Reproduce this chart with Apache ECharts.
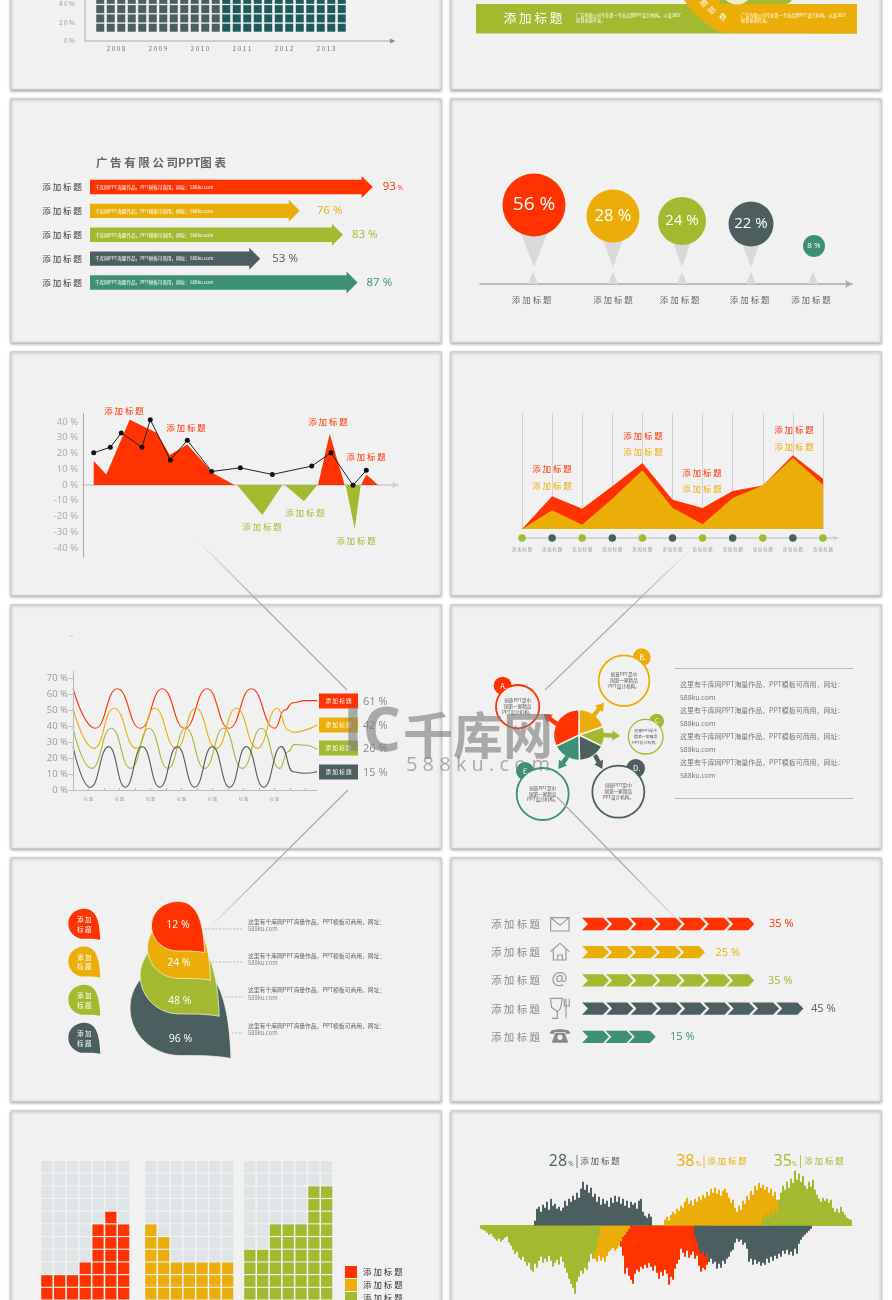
<!DOCTYPE html>
<html><head><meta charset="utf-8">
<style>html,body{margin:0;padding:0;background:#fff}#c{width:892px;height:1300px}</style>
<script src="https://cdn.jsdelivr.net/npm/echarts@6/dist/echarts.min.js"></script>
</head><body><div id="c"></div>
<script>
// ---------- palette ----------
const RED='#ff3200',YEL='#ebae08',GRN='#a3ba30',DRK='#4c5f60',TEA='#3d9073',GREY='#999';
const TITLE='添 加 标 题';
const FONT='"Noto Sans CJK SC","Noto Sans",sans-serif';
// ---------- data ----------
const waffleYears=['2008','2009','2010','2011','2012','2013'];
const waffleTicks=[0,20,40];
const waffleGrey=[40,40,40,40,40,40,40,40,40,40,40,40];
const waffleTeal=[40,40,40,40,40,40,40,40,40,40,40,40];

const arrowLabels=['93','76','83','53','87'];
const arrowLengths=[93,69,83.2,56,88];

const pinLabels=['56','28','24','22','8'];
const pinX=[534,613,682,751,814];
const pinHeight=[79,68,63,60,38];
const pinDiameter=[63,53,48,45,22];
const pinColors=[RED,YEL,GRN,DRK,TEA];

const areaRedPos=[[10.7,0],[10.7,15.2],[23.3,6.7],[46.7,41.5],[74,33],[86.7,19],[104.3,25.7],[130,7.4],[151.7,0],[235,0],[246.7,32.4],[261.7,0],[278,0],[283.3,6.7],[295,0]];
const areaGrnNeg=[[154,0],[179.3,-19],[199.3,0],[201.7,0],[221,-10.3],[234.3,0],[262.7,0],[271.7,-28],[277.7,0]];
const lineBlack=[[10.7,20.4],[27.3,24],[38.3,33],[59,24],[67.3,41.5],[87.3,15.8],[104.3,28.4],[128.7,8.6],[157.3,10.9],[189.3,6.7],[228.7,12],[248,20.4],[270,-0.2],[283.3,9.3]];

const hillCats=['添加标题','添加标题','添加标题','添加标题','添加标题','添加标题','添加标题','添加标题','添加标题','添加标题','添加标题'];
const hillRed=[0,28.2,17.5,36.8,56.9,25.3,18.1,32.8,37.6,63.5,43.4];
const hillYel=[0,16.1,3.7,26.1,50.6,18.4,4,26.7,37.6,61.5,38.2];

const waveRed=[[0,63.7],[22.3,38.8],[44.3,63.7],[67.3,38.8],[89.3,63.7],[111.7,38.8],[134,63.7],[156,38.8],[178.3,63.7],[201.7,38.8],[211.7,50.3],[220,54.9],[231.7,56.2],[244,56.2]];
const waveYel=[[0,51.4],[21,26.2],[41,51.4],[63.3,26.2],[81.7,51.4],[103.3,26.2],[122.7,51.4],[143.3,26.2],[163.3,51.4],[184.3,26.2],[204.3,51.4],[215,37.7],[220,36.3],[244,40.9]];
const waveGrn=[[0,38.8],[18.7,13.6],[38.3,38.8],[57.7,13.6],[76,38.8],[95,13.6],[112.7,38.8],[131.7,13.6],[150.7,38.8],[169.3,13.6],[188.3,38.8],[206.7,13.6],[215,24.1],[221.7,28.7],[230,28.3],[244,25.6]];
const waveDrk=[[0,27.3],[17.3,1.7],[35.7,27.3],[52.3,1.7],[69.3,27.3],[86.7,1.7],[104.3,27.3],[121.7,1.7],[139.3,27.3],[156.7,1.7],[173.3,27.3],[190.7,1.7],[208.3,27.3],[220,11.5],[230,10.5],[244,11.5]];
const wavePercents=['61 %','42 %','26 %','15 %'];

const pieAngles=[71,45,63,65,116];
const dropValues=['96 %','48 %','24 %','12 %'];
const chevronValues=[35,25,35,45,15];

const cellsRed=[2,2,2,3,6,7,6];
const cellsYel=[6,5,3,3,3,3,3];
const cellsGrn=[4,4,6,6,6,9,9];

const soundDrkTop=[5,17,19,14,21,18,24,16,27,20,22,17,19,15,18,25,20,27,24,30,26,33,28,37,44,36,41,33,38,29,32,24,29,21,27,22,25,19,28,23,30,24,29,22,27,20,25,18,24,21,23,17,25,27,14,10,8,12,9];
const soundYelTop=[6,9,5,11,14,12,17,15,20,18,24,28,22,25,20,27,24,29,26,31,28,34,30,37,33,38,32,36,30,35,37,33,28,23,26,18,14,20,16,25,22,30,26,35,31,40,36,43,38,41,36,39,33,37,30,34,26];
const soundGrnTop=[10,6,12,8,14,11,16,12,26,33,40,36,44,38,47,43,55,46,52,44,50,40,37,44,39,46,36,31,27,24,28,25,27,23,26,18,14,17,13,19,14,11,8,7,6];
const soundGrnLow=[3,4,5,7,9,8,11,13,15,13,16,14,12,11,17,20,24,28,26,32,34,31,36,40,37,44,46,38,42,35,31,37,33,36,30,35,41,37,34,39,31,36,42,47,53,58,62,68,56,51,45,48,42,44,36,28,33,26,20,11];
const soundYelLow=[24,28,33,36,30,35,32,36,30,26,24,22,25,23,20,16,11,9,6,3];
const soundRedLow=[21,30,48,42,50,54,58,48,44,46,41,43,39,42,37,41,45,40,47,53,46,50,44,48,59,51,54,43,38,34,23,27,31,25,32,29,26,33,30,40,46,42,44,39,36];
const soundDrkLow=[11,16,24,28,26,31,28,36,33,38,36,43,38,42,35,38,33,31,26,24,17,13,16,14,19,17,23,36,33,39,34,38,36,40,37,39,33,37,31,35,30,33,28,31,25,28,24,29,26,30,23,28,18,14,11,9,7,5,3];

// ---------- builders ----------
const grids=[],xAxes=[],yAxes=[],series=[],G=[];
function cart(rect,x,y){const i=grids.length;grids.push(Object.assign({containLabel:false},rect));
  xAxes.push(Object.assign({gridIndex:i},x));yAxes.push(Object.assign({gridIndex:i},y));return i;}
function pxGrid(l,t,w,h){return cart({left:l,top:t,width:w,height:h},{type:'value',min:0,max:w,show:false},{type:'value',min:0,max:h,inverse:true,show:false});}
function T(text,x,y,o={}){const st={text,x,y,fill:o.color||'#777',fontSize:o.size||9,fontFamily:o.family||FONT,fontWeight:o.weight||'normal',
  align:o.align||'center',verticalAlign:'middle',textAlign:o.align||'center',textVerticalAlign:'middle'};
  G.push({type:'text',z:o.z||5,silent:true,style:st});}
function L(x1,y1,x2,y2,color,w,dash,z){G.push({type:'line',z:z||5,silent:true,shape:{x1,y1,x2,y2},style:{stroke:color,lineWidth:w||1,lineDash:dash}});}
function P(points,fill,z){G.push({type:'polygon',z:z||5,silent:true,shape:{points},style:{fill}});}
function C(cx,cy,r,style,z){G.push({type:'circle',z:z||5,silent:true,shape:{cx,cy,r},style});}
function R(x,y,w,h,style,z){G.push({type:'rect',z:z||5,silent:true,shape:{x,y,width:w,height:h},style});}

// panels
const cols=[[10.7,430.6],[450.7,430.6]];
const rows=[[-20,109.5],[98.7,244],[351.7,244],[604.7,244],[857.7,244],[1110.7,240]];
rows.forEach(r=>cols.forEach(c=>{
  G.push({type:'rect',z:-10,silent:true,shape:{x:c[0],y:r[0],width:c[1],height:r[1]},
    style:{fill:'#f1f1f1',stroke:'#c9c9c9',lineWidth:1,shadowBlur:3,shadowColor:'rgba(0,0,0,.35)',shadowOffsetY:1}});
}));

// ---------- P1: waffle columns (cropped) ----------
const topGrid=cart({left:95,top:3,width:252,height:38},{type:'category',data:waffleGrey.concat(waffleTeal).map((_,k)=>k),show:false},
    {type:'value',min:0,max:40,interval:20,offset:10,axisLine:{show:false},axisTick:{show:false},splitLine:{show:false},
     axisLabel:{margin:10,fontSize:6.5,color:'#999',fontFamily:FONT,formatter:v=>String(v).split('').join(' ')+' %'}});
series.push({type:'pictorialBar',xAxisIndex:topGrid,yAxisIndex:topGrid,silent:true,
  data:waffleGrey.map(v=>({value:v,symbolRepeat:v/10,symbolBoundingData:38,itemStyle:{color:DRK}})).concat(waffleTeal.map(v=>({value:v,symbolRepeat:v/10,symbolBoundingData:38,itemStyle:{color:'#1d5a5c'}}))),
  symbol:'rect',symbolSize:[8,8],symbolOffset:[0,-9.3],barWidth:8,symbolPosition:'start',clip:false});
L(85,0,85,41,'#aaa',1);L(85,41,392,41,'#aaa',1);P([[395.5,41],[390,38.5],[390,43.5]],'#7f9090');
// P1 right: band
{
  R(476,4,381,29.5,{fill:GRN});
  const ringEdge=[];
  for(let y=0;y<=33.5;y+=1.5){ringEdge.push([760-Math.sqrt(91*91-(y+50)*(y+50)),y]);}
  P(ringEdge.concat([[857,33.5],[857,4],[757,4],[757,0]]),YEL);
  G.push({type:'rect',z:5,silent:true,shape:{x:720,y:-6,width:73,height:10,r:[0,0,8,0]},style:{fill:GRN}});
  C(737,-12,16.5,{fill:'#eceecb'},6);
  T(TITLE,533,18.5,{color:'#fff',size:12.5,z:6});
  T('广告有限公司专业第一专业品牌PPT设计机构。以及2007',576,15,{color:'#fff',size:4.2,align:'left',z:6});
  T('创意来源开发。',576,20,{color:'#fff',size:4.2,align:'left',z:6});
  T('广告有限公司专业第一专业品牌PPT设计机构。以及2007',741,15,{color:'#fff',size:4.2,align:'left',z:6});
  T('创意来源开发。',741,20,{color:'#fff',size:4.2,align:'left',z:6});
  [['题',704,3,-.95],['加',712,10,-.8],['数',723,17,-.65]].forEach(a=>{
    G.push({type:'text',z:6,silent:true,x:a[1],y:a[2],rotation:a[3],style:{text:a[0],x:0,y:0,fill:'#fff',fontSize:7.5,fontFamily:FONT,align:'center',verticalAlign:'middle',textAlign:'center',textVerticalAlign:'middle'}});
  });
}
// ---------- P2: arrows ----------
{
  const colors=[RED,YEL,GRN,DRK,TEA],gaps=[10,17,9,12,9];
  const i=cart({left:90,top:175,width:304,height:119.5},{type:'value',min:0,max:100,show:false},
    {type:'category',inverse:true,data:arrowLabels.map(()=>TITLE),axisLine:{show:false},axisTick:{show:false},axisLabel:{margin:8,fontSize:8.5,color:'#333',fontFamily:FONT}});
  series.push({type:'custom',xAxisIndex:i,yAxisIndex:i,silent:true,data:arrowLengths.map((v,k)=>[v,k]),encode:{x:0,y:1},
    renderItem:(p,api)=>{const a=api.coord([0,api.value(1)]),b=api.coord([api.value(0),api.value(1)]),k=p.dataIndex,y=a[1],h=7.2,H=11,hl=11;
      return {type:'group',children:[
        {type:'polygon',shape:{points:[[a[0],y-h],[b[0]-hl,y-h],[b[0]-hl,y-H],[b[0],y],[b[0]-hl,y+H],[b[0]-hl,y+h],[a[0],y+h]]},style:{fill:colors[k]}},
        {type:'text',style:{text:'千库网PPT海量作品，PPT模板可商用，网址：588ku.com',x:a[0]+5,y:y,fill:'#fff',fontSize:4.6,fontFamily:FONT,verticalAlign:'middle',textVerticalAlign:'middle'}},
        {type:'text',style:{text:arrowLabels[k]+(k?' %':''),x:b[0]+gaps[k],y:y,fill:colors[k],fontSize:11.5,fontFamily:'"Open Sans"',verticalAlign:'middle',textVerticalAlign:'middle'}}
      ]};}});
  T('%',397.5,188,{color:RED,size:6.5,align:'left',family:'"Open Sans"'});
  T('广 告 有 限 公 司PPT图 表',96,163,{color:'#666',size:11.5,align:'left',weight:'bold'});
}
// ---------- P2 right: pins ----------
{
  const i=cart({left:480,top:150,width:372,height:134},
    {type:'value',min:0,max:372,axisTick:{show:false},axisLabel:{show:false},splitLine:{show:false},axisLine:{show:true,symbol:['none','arrow'],symbolSize:[6,7],lineStyle:{color:'#a8a8a8',width:1.5}}},
    {type:'value',min:0,max:134,show:false});
  const topTri=[[534,17,54,14.5],[613,17,50,12],[682,17,46,10.5],[751,17,44,10],[814,27,33,5]];
  const lowTri=[533,613,682,751,813];
  const tri=(p,api)=>{const x=api.value(0),t=api.value(1),b=api.value(2),h=api.value(3);
    return {type:'polygon',shape:{points:[api.coord([x-480,t]),api.coord([x-480-h,b]),api.coord([x-480+h,b])]},style:{fill:'#d9d9d9'}};};
  series.push({type:'custom',xAxisIndex:i,yAxisIndex:i,silent:true,data:topTri,renderItem:tri,encode:{x:0,y:1}});
  series.push({type:'custom',xAxisIndex:i,yAxisIndex:i,silent:true,data:lowTri.map(x=>[x,12,0,5]),renderItem:tri,encode:{x:0,y:1}});
  series.push({type:'scatter',xAxisIndex:i,yAxisIndex:i,silent:true,
    data:pinX.map((x,k)=>({value:[x-480,pinHeight[k]],symbolSize:pinDiameter[k],itemStyle:{color:pinColors[k],opacity:1},
      label:{show:true,position:'inside',formatter:pinLabels[k]+' %',color:'#fff',fontFamily:'"Open Sans"',fontSize:[19,16.5,15,15,8][k]}}))});
  [531.7,613,679.7,749.7,811].forEach(x=>T(TITLE,x,300,{size:8.5,color:'#666'}));
}
// ---------- P3: area + line ----------
{
  const i=cart({left:83,top:422,width:315,height:126},
    {type:'value',min:0,max:315,axisTick:{show:false},axisLabel:{show:false},splitLine:{show:false},axisLine:{onZero:true,symbol:['none','arrow'],symbolSize:[5,6],lineStyle:{color:'#ccc',width:1.5}}},
    {type:'value',min:-40,max:40,interval:10,axisLine:{show:false},axisTick:{show:false},splitLine:{show:false},
     axisLabel:{margin:5,fontSize:9.5,color:'#aaa',fontFamily:'"Open Sans"',formatter:v=>v+' %'}});
  const area=(d,c)=>({type:'line',xAxisIndex:i,yAxisIndex:i,data:d,silent:true,clip:false,showSymbol:false,lineStyle:{width:0},areaStyle:{color:c,opacity:1},z:2});
  series.push(area(areaRedPos,RED),area(areaGrnNeg,GRN));
  series.push({type:'line',xAxisIndex:i,yAxisIndex:i,data:lineBlack,silent:true,clip:false,symbol:'circle',symbolSize:5,showAllSymbol:true,lineStyle:{color:'#222',width:1},itemStyle:{color:'#111'},z:3});
  L(83.5,413,83.5,558,'#aaa',1);
  [[124,411],[186,428],[328,422],[366,457]].forEach(a=>T(TITLE,a[0],a[1],{color:RED,size:8.5}));
  [[262,527],[305,513],[356,541]].forEach(a=>T(TITLE,a[0],a[1],{color:GRN,size:8.5}));
}
// ---------- P3 right: hills ----------
{
  const i=cart({left:522,top:413,width:301,height:116},
    {type:'category',boundaryGap:false,data:hillCats,axisLine:{show:false},axisTick:{show:false},axisLabel:{show:false},splitLine:{show:true,interval:0,lineStyle:{color:'#cfcfcf',width:1}}},
    {type:'value',min:0,max:100,show:false});
  const area=(d,c)=>({type:'line',xAxisIndex:i,yAxisIndex:i,data:d,silent:true,showSymbol:false,lineStyle:{width:0},areaStyle:{color:c,opacity:1}});
  series.push(area(hillRed,RED),area(hillYel,YEL));
  const j=cart({left:522,top:536,width:316,height:2},
    {type:'value',min:0,max:10.5,interval:1,splitLine:{show:false},axisTick:{show:false},
     axisLine:{onZero:false,symbol:['none','arrow'],symbolSize:[4,5],lineStyle:{color:'#ccc',width:1.5}},
     axisLabel:{margin:9,fontSize:4.3,color:'#999',fontFamily:FONT,showMaxLabel:false,formatter:v=>Number.isInteger(v)?'添 加 标 题':''}},
    {type:'value',min:0,max:1,show:false});
  series.push({type:'scatter',xAxisIndex:j,yAxisIndex:j,silent:true,symbolSize:7.5,z:3,
    data:hillCats.map((_,k)=>({value:[k,0],itemStyle:{color:k%2?DRK:GRN,opacity:1}}))});
  [[552,469,486],[643,436,452],[702,473,489],[794,430,447]].forEach(a=>{T(TITLE,a[0],a[1],{color:RED,size:8.5});T(TITLE,a[0],a[2],{color:YEL,size:8.5});});
}
// ---------- P4: waves ----------
{
  const i=cart({left:73,top:678.7,width:244,height:111.3},
    {type:'value',min:0,max:244,interval:15.5,splitLine:{show:false},axisLine:{lineStyle:{color:'#bbb',width:1}},axisTick:{show:true,inside:true,length:2,lineStyle:{color:'#bbb'}},
     axisLabel:{margin:7,fontSize:4,color:'#999',fontFamily:FONT,showMaxLabel:false,formatter:v=>{const n=Math.round(v/15.5);return (n%2===1&&n<14)?'标 题':'';}}},
    {type:'value',min:0,max:70,interval:10,axisLine:{show:false},axisTick:{show:true,length:4,lineStyle:{color:'#bbb'}},splitLine:{show:false},
     axisLabel:{margin:5,fontSize:9.5,color:'#999',fontFamily:'"Open Sans"',formatter:v=>v+' %'}});
  [[waveRed,RED],[waveYel,YEL],[waveGrn,GRN],[waveDrk,DRK]].forEach(a=>series.push({type:'line',xAxisIndex:i,yAxisIndex:i,data:a[0],silent:true,showSymbol:false,smooth:0.5,smoothMonotone:'x',lineStyle:{color:a[1],width:1.1}}));
  L(73.5,671,73.5,790,'#bbb',1);
  L(69,636,73,636,'#ccc',1);
  [[RED,701],[YEL,725],[GRN,748],[DRK,772]].forEach((a,k)=>{
    R(319,a[1]-7.5,39,15,{fill:a[0]});T(TITLE,338.5,a[1],{color:'#fff',size:5.6});
    T(wavePercents[k],363,a[1]+1,{color:'#888',size:11,align:'left',family:'"Open Sans"'});
  });
}
// ---------- P4 right: pie + circles ----------
{
  series.push({type:'pie',center:[579,735],radius:[0,25.5],startAngle:90,clockwise:true,silent:true,label:{show:false},labelLine:{show:false},
    itemStyle:{borderColor:'#f1f1f1',borderWidth:1.5},
    data:pieAngles.map((v,k)=>({value:v,itemStyle:{color:[YEL,GRN,DRK,TEA,RED][k]}}))});
  const c6=(x,y)=>[x/3+480,y/3+640];
  const arrow=(a,b,color)=>{const p=c6(a[0],a[1]),q=c6(b[0],b[1]),dx=q[0]-p[0],dy=q[1]-p[1],n=Math.hypot(dx,dy),ux=dx/n,uy=dy/n,nx=-uy,ny=ux,w=2.2,H=5,hl=8;
    const m=[q[0]-ux*hl,q[1]-uy*hl];
    P([[p[0]+nx*w,p[1]+ny*w],[m[0]+nx*w,m[1]+ny*w],[m[0]+nx*H,m[1]+ny*H],q,[m[0]-nx*H,m[1]-ny*H],[m[0]-nx*w,m[1]-ny*w],[p[0]-nx*w,p[1]-ny*w]],color);};
  arrow([235,255],[190,222],RED);arrow([340,228],[372,188],YEL);arrow([370,285],[421,288],GRN);arrow([345,345],[367,387],DRK);arrow([262,350],[235,387],TEA);
  const ring=[[113,200,65,RED,68,137,27,'A.'],[432,122,76,YEL,485,52,27,'B.'],[497,290,52,GRN,530,243,22,'C.'],[415,455,78,DRK,467,385,28,'D.'],[188,462,78,TEA,135,393,27,'E.']];
  ring.forEach(r=>{const a=c6(r[0],r[1]),b=c6(r[4],r[5]);
    C(b[0],b[1],r[6]/3,{fill:r[3]});
    C(a[0],a[1],r[2]/3,{fill:'#f1f1f1',stroke:r[3],lineWidth:r[2]<60?1.3:1.8},6);
    T(r[7],b[0]+1,b[1],{color:'#fff',size:r[6]<25?6:7.5,z:7});
    const s=r[2]<60?3.9:4.6;
    T('创意PPT是中',a[0],a[1]-6,{size:s,color:'#555',z:7});T('国第一家精品',a[0],a[1],{size:s,color:'#555',z:7});T('PPT设计机构。',a[0],a[1]+5.5,{size:s,color:'#555',z:7});
  });
  L(675,668.5,853,668.5,'#bbb',1);L(675,798.5,853,798.5,'#bbb',1);
  [684,710,736,762].forEach(y=>{T('这里有千库网PPT海量作品，PPT模板可商用，网址：',680,y,{size:6.95,align:'left',color:'#777'});T('588ku.com',680,y+13,{size:6.95,align:'left',color:'#777'});});
}
// ---------- P5: drops ----------
{
  const DROP='path://M0 48 C0 21 22 0 50 0 C85 0 98 35 100 100 C85 97 70 97 50 97 C22 97 0 75 0 48Z';
  const i=pxGrid(11,857.7,430,244);
  const dropPos=[[180.5,1010,101,97,29],[179.7,977.3,79,78,24],[179,949.3,63,62,14],[178,927,53,51,-2]];
  const dropCol=[DRK,GRN,YEL,RED];
  series.push({type:'scatter',xAxisIndex:i,yAxisIndex:i,silent:true,symbol:DROP,z:3,
    data:dropPos.map((d,k)=>({value:[d[0]-11,d[1]-857.7],symbolSize:[d[2],d[3]],itemStyle:{color:dropCol[k],opacity:1,borderColor:'#e9efdc',borderWidth:0.8},
      label:{show:true,position:'inside',offset:[0,d[4]],formatter:dropValues[k],color:'#fff',fontSize:10.5,fontFamily:'"Open Sans"'}}))});
  series.push({type:'scatter',xAxisIndex:i,yAxisIndex:i,silent:true,symbol:DROP,z:3,symbolSize:[32,31],
    data:[[924.3,RED],[962,YEL],[1000.3,GRN],[1038.3,DRK]].map(d=>({value:[84.3-11,d[0]-857.7],itemStyle:{color:d[1],opacity:1},
      label:{show:true,position:'inside',formatter:'添 加\n标 题',color:'#fff',fontSize:6.5,lineHeight:9.5,fontFamily:FONT}}))});
  [[205,929,922,929],[212,962,955.5,963],[221,997,990,998],[232,1033,1026,1033]].forEach(a=>{
    L(a[0],a[1],243,a[1],'#aaa',0.8,[2,1.5]);
    T('这里有千库网PPT海量作品，PPT模板可商用，网址：',248,a[2],{size:5.8,align:'left',color:'#666'});
    T('588ku.com',248,a[3],{size:5.8,align:'left',color:'#888'});
  });
}
// ---------- P5 right: chevrons ----------
{
  const CHEV='path://M0 0 L78 0 L100 50 L78 100 L0 100 L22 50 Z';
  const colors=[RED,YEL,GRN,DRK,TEA];
  const i=cart({left:582,top:909.9,width:246,height:141},{type:'value',min:0,max:50,show:false},
    {type:'category',inverse:true,data:chevronValues.map(()=>TITLE),axisLine:{show:false},axisTick:{show:false},axisLabel:{margin:42,fontSize:10.5,color:'#888',fontFamily:FONT}});
  series.push({type:'pictorialBar',xAxisIndex:i,yAxisIndex:i,silent:true,symbol:CHEV,symbolSize:[27,12.3],symbolPosition:'start',barWidth:13,
    data:chevronValues.map((v,k)=>({value:v,symbolRepeat:v/5,symbolBoundingData:v,itemStyle:{color:colors[k]}}))});
  [[769,924],[715.5,953],[768,981],[811,1009],[670,1037]].forEach((a,k)=>T(chevronValues[k]+' %',a[0],a[1],{color:colors[k],size:11,align:'left',family:'"Open Sans"'}));
  const p=(x,y)=>[x/3+470,y/3+900],ST={stroke:'#9a9a9a',lineWidth:1.2,fill:'none'};
  const poly=pts=>G.push({type:'polyline',z:5,silent:true,shape:{points:pts.map(q=>p(q[0],q[1]))},style:ST});
  poly([[242,53],[297,53],[297,93],[242,93],[242,53],[270,76],[297,53]]);
  poly([[241,155],[270,130],[298,155]]);poly([[250,148],[250,180],[288,180],[288,148]]);poly([[263,180],[263,165],[277,165],[277,180]]);
  T('@',559.5,979.5,{size:18,color:'#999',family:'"Open Sans"'});
  poly([[241,295],[245,322],[262,335],[272,325],[277,295],[241,295]]);poly([[262,335],[262,355],[246,355]]);poly([[288,296],[288,355]]);poly([[283,296],[283,318],[298,318],[298,296]]);
  P([[238,400],[245,391],[270,387],[295,391],[302,400],[290,403],[285,396],[255,396],[250,403]].map(q=>p(q[0],q[1])),'#888');
  P([[256,398],[284,398],[295,428],[245,428]].map(q=>p(q[0],q[1])),'#888');
  C(p(270,412)[0],p(270,412)[1],2.6,{fill:'#f1f1f1'},6);
}
// ---------- P6: cell waffles ----------
{
  const lefts=[41,145,244],sets=[[cellsRed,RED],[cellsYel,YEL],[cellsGrn,GRN]];
  sets.forEach((s,n)=>{
    const i=cart({left:lefts[n]-0.55,top:1160.4,width:89.6,height:144.1},{type:'value',min:0,max:7,show:false},{type:'value',min:0,max:11,show:false});
    const bg=[],fg=[];
    s[0].forEach((h,c)=>{for(let r=0;r<11;r++){bg.push([c+.5,r+.5]);if(r<h)fg.push([c+.5,r+.5]);}});
    series.push({type:'scatter',xAxisIndex:i,yAxisIndex:i,silent:true,symbol:'rect',symbolSize:[11.2,11.5],data:bg,itemStyle:{color:'#dfe4e6',opacity:1},z:2});
    series.push({type:'scatter',xAxisIndex:i,yAxisIndex:i,silent:true,symbol:'rect',symbolSize:[11.2,11.5],data:fg,itemStyle:{color:s[1],opacity:1},z:3});
  });
  [[RED,1272],[YEL,1285],[GRN,1298]].forEach(a=>{R(345,a[1]-6,12,12,{fill:a[0]});T(TITLE,363,a[1],{size:8.5,align:'left',color:'#333'});});
}
// ---------- P6 right: sound wave ----------
{
  const N=186,cats=Array.from({length:N},(_,k)=>k);
  const i=cart({left:480,top:1169.7,width:372,height:126},
    {type:'category',data:cats,axisTick:{show:false},axisLabel:{show:false},axisLine:{show:true,onZero:true,lineStyle:{color:GRN,width:1}}},
    {type:'value',min:-70,max:56,show:false});
  const place=(arr,start,sign)=>{const out=new Array(N).fill(null);arr.forEach((v,k)=>{if(start+k<N)out[start+k]=sign*v;});return out;};
  [[soundDrkTop,27,1,DRK],[soundYelTop,92,1,YEL],[soundGrnTop,141,1,GRN],[soundRedLow,70,-1,RED],[soundYelLow,55,-1,YEL],[soundGrnLow,0,-1,GRN],[soundDrkLow,107,-1,DRK]].forEach(s=>{
    series.push({type:'bar',xAxisIndex:i,yAxisIndex:i,silent:true,data:place(s[0],s[1],s[2]),barGap:'-100%',barCategoryGap:0,itemStyle:{color:s[3]},z:2});
  });
  [[558,'28',DRK,571,577,600],[685.3,'38',YEL,698.5,704,727],[782.7,'35',GRN,794.5,800.5,824]].forEach(a=>{
    T(a[1],a[0],1161.5,{size:16,color:a[2],family:'"Open Sans"'});
    T('%',a[3],1164,{size:6.5,color:a[2],family:'"Open Sans"'});
    L(a[4],1155,a[4],1168,a[2],0.8);
    T(TITLE,a[5],1161,{size:8.5,color:a[2]===DRK?'#555':a[2]});
  });
}
// year labels on a second x axis of the top grid (added last so grid and axis indices stay aligned above)
xAxes.push({gridIndex:topGrid,type:'category',position:'bottom',data:waffleYears,axisLine:{show:false},axisTick:{show:false},
    axisLabel:{margin:4,fontSize:6.5,color:'#777',fontFamily:FONT,formatter:v=>v.split('').join(' ')}});
// ---------- overlay lines + watermark ----------
function fade(x1,y1,x2,y2){G.push({type:'line',z:50,silent:true,shape:{x1,y1,x2,y2},style:{lineWidth:1.2,
  stroke:{type:'linear',global:true,x:x1,y:y1,x2:x2,y2:y2,colorStops:[{offset:0,color:'rgba(150,150,150,0)'},{offset:.45,color:'#aaa'},{offset:1,color:'#aaa'}]}}});}
fade(195,538,347,690);fade(205,932,348,790);fade(692,548,545,690);
G.push({type:'line',z:50,silent:true,shape:{x1:557,y1:797,x2:692,y2:935},style:{lineWidth:1.2,stroke:{type:'linear',global:true,x:557,y:797,x2:692,y2:935,colorStops:[{offset:0,color:'#aaa'},{offset:.5,color:'#aaa'},{offset:1,color:'rgba(170,170,170,0)'}]}}});
const WM='rgba(125,125,125,.62)';
T('IC',372,734,{size:60,color:WM,z:60,weight:'bold',family:'"Open Sans"'});
T('千库网',478,735,{size:50,color:WM,z:60,weight:'bold'});
T('5 8 8 k u . c o m',478,765,{size:20,color:WM,z:60,family:'"Open Sans"'});

// ---------- chart ----------
const chart=echarts.init(document.getElementById('c'),null,{renderer:'canvas',width:892,height:1300});
chart.setOption({animation:false,backgroundColor:'#fff',grid:grids,xAxis:xAxes,yAxis:yAxes,series,graphic:{elements:G}});
</script></body></html>
